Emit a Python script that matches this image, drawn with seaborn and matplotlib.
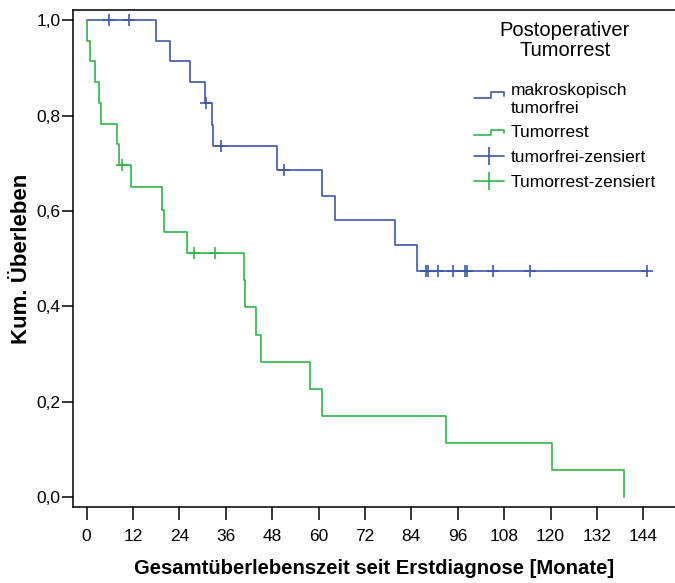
import numpy as np
import pandas as pd
import matplotlib
matplotlib.use("Agg")
import matplotlib.pyplot as plt
from matplotlib.lines import Line2D
from matplotlib.legend_handler import HandlerBase
import seaborn as sns

# ---------------- data ----------------
group_names = ["makroskopisch\ntumorfrei", "Tumorrest"]
censor_names = ["tumorfrei-zensiert", "Tumorrest-zensiert"]

# Kaplan-Meier step points: time [months], cumulative survival after the step
free_time = [0.0, 18.0, 21.6, 26.8, 30.6, 32.4, 32.8, 49.2, 60.8, 64.2, 79.8, 85.6, 145.0]
free_surv = [1.0, 0.957, 0.914, 0.871, 0.827, 0.780, 0.736, 0.686, 0.632, 0.582, 0.528, 0.475, 0.475]
free_cens_time = [5.7, 10.9, 30.8, 34.7, 51.0, 87.9, 88.4, 90.8, 94.9, 97.8, 98.3, 105.1, 114.6, 145.0]
free_cens_surv = [1.0, 1.0, 0.827, 0.736, 0.686, 0.475, 0.475, 0.475, 0.475, 0.475, 0.475, 0.475, 0.475, 0.475]

rest_time = [0.0, 0.2, 1.0, 2.3, 3.3, 3.8, 7.8, 8.5, 11.4, 19.4, 20.0, 26.0, 40.6, 40.9, 43.9, 45.2,
             57.9, 61.0, 93.0, 120.4, 139.1]
rest_surv = [1.0, 0.957, 0.914, 0.871, 0.827, 0.783, 0.740, 0.696, 0.650, 0.603, 0.557, 0.511, 0.455,
             0.398, 0.341, 0.284, 0.227, 0.171, 0.114, 0.058, 0.0]
rest_cens_time = [9.2, 27.9, 33.1]
rest_cens_surv = [0.696, 0.511, 0.511]

x_ticks = [0, 12, 24, 36, 48, 60, 72, 84, 96, 108, 120, 132, 144]
y_ticks = [0.0, 0.2, 0.4, 0.6, 0.8, 1.0]
y_tick_labels = ["0,0", "0,2", "0,4", "0,6", "0,8", "1,0"]

colors = ["#3e58ac", "#2eb848"]

x_label = "Gesamtüberlebenszeit seit Erstdiagnose [Monate]"
y_label = "Kum. Überleben"
legend_title = "Postoperativer\nTumorrest"

# ---------------- figure ----------------
sns.set_theme(style="ticks")
plt.rcParams["font.family"] = ["Liberation Sans", "DejaVu Sans"]
plt.rcParams["text.color"] = "black"
plt.rcParams["axes.labelcolor"] = "black"

curves = pd.concat([
    pd.DataFrame({"time": free_time, "surv": free_surv, "group": group_names[0]}),
    pd.DataFrame({"time": rest_time, "surv": rest_surv, "group": group_names[1]}),
], ignore_index=True)
cens = pd.concat([
    pd.DataFrame({"time": free_cens_time, "surv": free_cens_surv, "group": censor_names[0]}),
    pd.DataFrame({"time": rest_cens_time, "surv": rest_cens_surv, "group": censor_names[1]}),
], ignore_index=True)

fig = plt.figure(figsize=(6.75, 5.83), dpi=100)
ax = fig.add_axes([73 / 675, 1 - 507 / 583, 1 - 73 / 675, (507 - 10) / 583])

sns.lineplot(data=curves, x="time", y="surv", hue="group", hue_order=group_names,
             palette=colors, estimator=None, sort=False, drawstyle="steps-post",
             linewidth=1.2, legend=False, ax=ax)
for name, col in zip(censor_names, colors):
    sub = cens[cens["group"] == name]
    ax.plot(sub["time"], sub["surv"], linestyle="none", marker="+", markersize=9,
            markeredgewidth=1.2, color=col)

ax.set_xlim(-3.5, 152.2)
ax.set_ylim(-0.0205, 1.0215)
ax.set_xticks(x_ticks)
ax.set_xticklabels([str(t) for t in x_ticks])
ax.set_yticks(y_ticks)
ax.set_yticklabels(y_tick_labels)

for s in ["left", "top", "bottom"]:
    ax.spines[s].set_linewidth(1.1)
    ax.spines[s].set_color("black")
ax.spines["right"].set_visible(False)
ax.tick_params(axis="x", direction="out", length=9.5, width=1.1, pad=6, labelsize=12.5, colors="black")
ax.tick_params(axis="y", direction="out", length=8, width=1.1, pad=1, labelsize=12.5, colors="black")

ax.set_xlabel(x_label, fontsize=14.6, fontweight="bold", labelpad=11, color="black")
ax.set_ylabel(y_label, fontsize=16, fontweight="bold", labelpad=3, color="black")


class StepHandler(HandlerBase):
    def __init__(self, yoffset=0.0, **kw):
        super().__init__(**kw)
        self.yoffset = yoffset

    def create_artists(self, legend, orig_handle, xdescent, ydescent, width, height, fontsize, trans):
        x0 = -xdescent
        lo = -ydescent + height * 0.2 + self.yoffset
        hi = -ydescent + height * 0.62 + self.yoffset
        xs = [x0, x0 + width * 0.55, x0 + width * 0.55, x0 + width, x0 + width]
        ys = [lo, lo, hi, hi, hi - height * 0.25]
        ln = Line2D(xs, ys, color=orig_handle.get_color(), linewidth=1.2)
        ln.set_transform(trans)
        return [ln]


step_handles = [Line2D([], [], color=c) for c in colors]
cens_handles = [Line2D([0], [0], color=c, linewidth=1.2, marker="|", markersize=13,
                       markeredgewidth=1.2) for c in colors]
handles = step_handles + cens_handles
labels = group_names + censor_names
hmap = {step_handles[0]: StepHandler(yoffset=4.0), step_handles[1]: StepHandler()}
leg = fig.legend(handles, labels, handler_map=hmap, title=legend_title,
                 loc="upper left", bbox_to_anchor=(474 / 675, 1 - 21 / 583),
                 frameon=False, fontsize=12.5, title_fontsize=14.5,
                 handlelength=1.75, handletextpad=0.35, labelspacing=0.55,
                 borderaxespad=0, borderpad=0, labelcolor="black")
leg.get_title().set_multialignment("center")
leg.get_title().set_linespacing(1.05)
leg.get_title().set_color("black")
leg._legend_box.sep = 17

fig.savefig("out.png", dpi=100)
